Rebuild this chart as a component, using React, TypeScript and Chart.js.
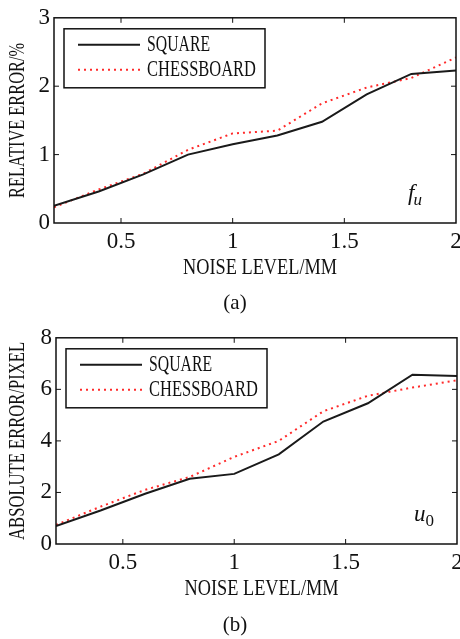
import React, { useEffect, useRef } from "react";
import { Chart, registerables } from "chart.js";

Chart.register(...registerables);

const NOISE_LEVELS = [0.2, 0.4, 0.6, 0.8, 1.0, 1.2, 1.4, 1.6, 1.8, 2.0];
const FU_SQUARE = [0.25, 0.46, 0.71, 1.0, 1.15, 1.28, 1.48, 1.88, 2.18, 2.23];
const FU_CHESS = [0.23, 0.49, 0.72, 1.07, 1.31, 1.35, 1.75, 1.98, 2.12, 2.42];
const U0_SQUARE = [0.7, 1.3, 1.95, 2.53, 2.72, 3.48, 4.75, 5.46, 6.57, 6.52];
const U0_CHESS = [0.74, 1.45, 2.1, 2.6, 3.38, 4.0, 5.15, 5.75, 6.07, 6.35];
const SERIES_NAMES = ["SQUARE", "CHESSBOARD"];
const X_TITLE = "NOISE LEVEL/MM";

const FONT = '"Liberation Serif", "Times New Roman", serif';

function condText(
  ctx: CanvasRenderingContext2D,
  text: string,
  x: number,
  y: number,
  w: number,
  size: number,
  rotate = false,
  align: CanvasTextAlign = "center"
) {
  ctx.save();
  ctx.font = `${size}px ${FONT}`;
  const nat = ctx.measureText(text).width;
  ctx.translate(x, y);
  if (rotate) ctx.rotate(-Math.PI / 2);
  ctx.scale(w / nat, 1);
  ctx.textAlign = align;
  ctx.textBaseline = "middle";
  ctx.fillStyle = "#111";
  ctx.fillText(text, 0, 0);
  ctx.restore();
}

const decorPlugin = {
  id: "decor",
  afterDraw(chart: any, _args: any, opts: any) {
    const { ctx, chartArea: a } = chart;
    ctx.save();
    ctx.strokeStyle = "#111";
    ctx.lineWidth = 1.5;
    ctx.strokeRect(a.left, a.top, a.right - a.left, a.bottom - a.top);
    ctx.lineWidth = 1;
    const xs = chart.scales.x;
    const ys = chart.scales.y;
    const seg = (x1: number, y1: number, x2: number, y2: number) => {
      ctx.beginPath();
      ctx.moveTo(x1, y1);
      ctx.lineTo(x2, y2);
      ctx.stroke();
    };
    xs.ticks.forEach((t: any) => {
      const px = xs.getPixelForValue(t.value);
      if (px <= a.left + 1 || px >= a.right - 1) return;
      seg(px, a.bottom, px, a.bottom - 5);
      seg(px, a.top, px, a.top + 5);
    });
    ys.ticks.forEach((t: any) => {
      const py = ys.getPixelForValue(t.value);
      if (py <= a.top + 1 || py >= a.bottom - 1) return;
      seg(a.left, py, a.left + 5, py);
      seg(a.right, py, a.right - 5, py);
    });

    // legend box
    const bx = a.left + 10;
    const by = a.top + 11;
    const bw = 201;
    const bh = 59;
    ctx.fillStyle = "#fff";
    ctx.fillRect(bx, by, bw, bh);
    ctx.lineWidth = 1.5;
    ctx.strokeStyle = "#111";
    ctx.strokeRect(bx, by, bw, bh);
    const ds = chart.data.datasets;
    const rows = [by + 16, by + 41];
    const widths = [63, 109];
    ds.forEach((d: any, i: number) => {
      ctx.save();
      ctx.strokeStyle = d.borderColor;
      ctx.lineWidth = d.borderWidth;
      ctx.setLineDash(d.borderDash || []);
      seg(bx + 14, rows[i], bx + 76, rows[i]);
      ctx.restore();
      condText(ctx, d.label, bx + 83, rows[i], widths[i], 23, false, "left");
    });

    // axis titles
    condText(ctx, X_TITLE, (a.left + a.right) / 2 + 5, a.bottom + 45, 154, 23);
    condText(ctx, opts.yTitle, 18, (a.top + a.bottom) / 2, opts.yTitleWidth, 23, true);

    // annotation
    ctx.fillStyle = "#111";
    ctx.textBaseline = "alphabetic";
    ctx.textAlign = "left";
    ctx.font = `italic 23px ${FONT}`;
    const ax = a.right - opts.annoDx;
    const ay = a.bottom - 23;
    ctx.fillText(opts.anno, ax, ay);
    const w = ctx.measureText(opts.anno).width;
    ctx.font = `${opts.subItalic ? "italic " : ""}17px ${FONT}`;
    ctx.fillText(opts.annoSub, ax + w + (opts.subItalic ? -1 : 0), ay + 5);

    // caption
    ctx.font = `21px ${FONT}`;
    ctx.textAlign = "center";
    ctx.textBaseline = "middle";
    ctx.fillText(opts.caption, 235, opts.captionY);
    ctx.restore();
  },
};

type PanelProps = {
  square: number[];
  chess: number[];
  yMax: number;
  yStep: number;
  yTitle: string;
  yTitleWidth: number;
  anno: string;
  annoSub: string;
  subItalic: boolean;
  annoDx: number;
  caption: string;
  captionY: number;
  height: number;
  padTop: number;
  axisWidth: number;
  padRight: number;
  xAxisHeight: number;
};

function Panel(p: PanelProps) {
  const ref = useRef<HTMLCanvasElement>(null);
  useEffect(() => {
    if (!ref.current) return;
    const chart = new Chart(ref.current, {
      type: "line",
      data: {
        labels: NOISE_LEVELS,
        datasets: [
          {
            label: SERIES_NAMES[0],
            data: NOISE_LEVELS.map((x, i) => ({ x, y: p.square[i] })),
            borderColor: "#1a1a1a",
            borderWidth: 2,
            pointRadius: 0,
            tension: 0,
          },
          {
            label: SERIES_NAMES[1],
            data: NOISE_LEVELS.map((x, i) => ({ x, y: p.chess[i] })),
            borderColor: "#ff2a2a",
            borderWidth: 2,
            borderDash: [2, 4],
            pointRadius: 0,
            tension: 0,
          },
        ],
      },
      options: {
        animation: false,
        responsive: false,
        layout: { padding: { top: p.padTop, left: 0, right: p.padRight, bottom: 0 } },
        plugins: {
          legend: { display: false },
          tooltip: { enabled: false },
          decor: {
            yTitle: p.yTitle,
            yTitleWidth: p.yTitleWidth,
            anno: p.anno,
            annoSub: p.annoSub,
            subItalic: p.subItalic,
            annoDx: p.annoDx,
            caption: p.caption,
            captionY: p.captionY,
          },
        } as any,
        scales: {
          x: {
            type: "linear",
            min: 0.2,
            max: 2,
            grid: { display: false, drawTicks: false },
            border: { display: false },
            ticks: {
              stepSize: 0.5,
              includeBounds: false,
              color: "#111",
              padding: 5,
              font: { family: FONT, size: 23 },
              callback: (v: any) => String(v),
            },
            afterFit: (s: any) => {
              s.height = p.xAxisHeight;
              s.paddingRight = 0;
              s.paddingLeft = 0;
            },
          },
          y: {
            type: "linear",
            min: 0,
            max: p.yMax,
            grid: { display: false, drawTicks: false },
            border: { display: false },
            ticks: {
              stepSize: p.yStep,
              color: "#111",
              padding: 4,
              font: { family: FONT, size: 23 },
            },
            afterFit: (s: any) => {
              s.width = p.axisWidth;
            },
          },
        },
      },
      plugins: [decorPlugin],
    });
    return () => chart.destroy();
  }, []);
  return <canvas ref={ref} width={460} height={p.height} style={{ display: "block" }} />;
}

export default function App() {
  return (
    <div style={{ position: "absolute", left: 0, top: 0, width: 460, height: 639, background: "#fff" }}>
      <Panel
        square={FU_SQUARE}
        chess={FU_CHESS}
        yMax={3}
        yStep={1}
        yTitle="RELATIVE ERROR/%"
        yTitleWidth={155}
        anno="f"
        annoSub="u"
        subItalic={true}
        annoDx={48}
        caption="(a)"
        captionY={303}
        height={320}
        padTop={15}
        axisWidth={54}
        padRight={4}
        xAxisHeight={97}
      />
      <Panel
        square={U0_SQUARE}
        chess={U0_CHESS}
        yMax={8}
        yStep={2}
        yTitle="ABSOLUTE ERROR/PIXEL"
        yTitleWidth={198}
        anno="u"
        annoSub="0"
        subItalic={false}
        annoDx={43}
        caption="(b)"
        captionY={305}
        height={319}
        padTop={17}
        axisWidth={56}
        padRight={3}
        xAxisHeight={95}
      />
    </div>
  );
}
